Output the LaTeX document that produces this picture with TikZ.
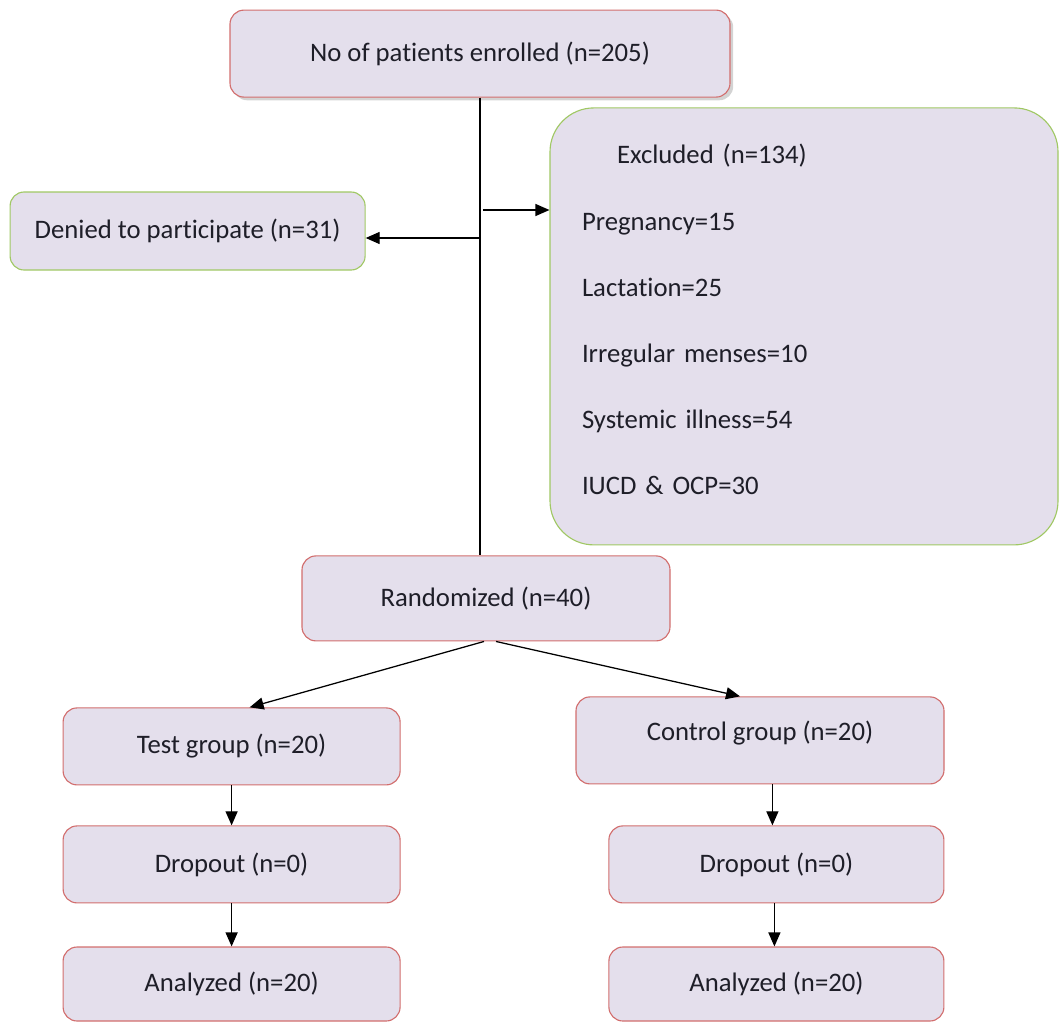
\documentclass[tikz,border=0pt]{standalone}
\usepackage{fontspec}
\setmainfont{Carlito}[Ligatures=NoCommon]
\usepackage{tikz}
\usetikzlibrary{arrows.meta,positioning,shapes,calc,shadows}
\definecolor{boxfill}{RGB}{228,223,236}
\definecolor{redline}{RGB}{210,110,110}
\definecolor{greenline}{RGB}{160,200,100}
\definecolor{textdark}{RGB}{30,30,40}

\begin{document}
\begin{tikzpicture}[
        box/.style={rectangle, draw=redline, fill=boxfill, line width=0.8pt,
                    align=center, rounded corners=0.35cm, text=textdark,
                    font=\fontsize{19}{23}\selectfont},
        greenbox/.style={box, draw=greenline},
        arrow/.style={-{Triangle[length=0.35cm,width=0.3cm]}, line width=0.9pt, black}
    ]
    \useasboundingbox (0,0) rectangle (26.475,-25.575);

    \node[box, minimum width=12.5cm, minimum height=2.175cm,
          drop shadow={shadow xshift=0.08cm, shadow yshift=-0.08cm, opacity=0.35}]
      (enrolled) at (12.0,-1.34) {No of patients enrolled (n=205)};

    \node[greenbox, minimum width=8.875cm, minimum height=1.95cm]
      (denied) at (4.69,-5.775) {Denied to participate (n=31)};

    \node[greenbox, minimum width=12.7cm, minimum height=10.925cm,
          rounded corners=1.1cm, align=left, text width=11.1cm, inner xsep=0pt]
      (excluded) at (20.1,-8.16)
      {\hspace*{0.875cm}Excluded (n=134)\\[24pt]
       Pregnancy=15\\[24pt]
       Lactation=25\\[24pt]
       Irregular menses=10\\[24pt]
       Systemic illness=54\\[24pt]
       IUCD \& OCP=30\rule[-0.35cm]{0pt}{0.1pt}};

    \node[box, minimum width=9.2cm, minimum height=2.125cm]
      (randomized) at (12.15,-14.96) {Randomized (n=40)};

    \node[box, minimum width=8.425cm, minimum height=1.925cm]
      (test) at (5.79,-18.66) {Test group (n=20)};
    \node[box, minimum width=9.2cm, minimum height=2.175cm, text depth=0.5cm]
      (control) at (19.0,-18.51) {Control group (n=20)};

    \node[box, minimum width=8.425cm, minimum height=1.925cm]
      (dropL) at (5.79,-21.61) {Dropout (n=0)};
    \node[box, minimum width=8.375cm, minimum height=1.925cm]
      (dropR) at (19.41,-21.61) {Dropout (n=0)};

    \node[box, minimum width=8.425cm, minimum height=1.85cm]
      (anaL) at (5.79,-24.6) {Analyzed (n=20)};
    \node[box, minimum width=8.375cm, minimum height=1.85cm]
      (anaR) at (19.41,-24.6) {Analyzed (n=20)};

    % trunk and side branches
    \coordinate (split) at (12.07,-5.25);
    \coordinate (deny) at (12.0,-5.95);
    \draw[line width=0.9pt] (enrolled.south) -- (enrolled.south |- randomized.north);
    \draw[arrow] (deny) -- (deny -| denied.east);
    \draw[arrow] (split) -- (split -| excluded.west);

    \draw[arrow] ([xshift=-0.05cm]randomized.south) -- ([xshift=0.45cm]test.north);
    \draw[arrow] ([xshift=0.25cm]randomized.south) -- ([xshift=-0.5cm]control.north);

    \draw[arrow] (test.south -| dropL.north) -- (dropL.north);
    \draw[arrow] (dropL.south) -- (anaL.north);
    \draw[arrow] ([xshift=-0.1cm]control.south -| dropR.north) -- ([xshift=-0.1cm]dropR.north);
    \draw[arrow] ([xshift=-0.05cm]dropR.south) -- ([xshift=-0.05cm]anaR.north);
\end{tikzpicture}
\end{document}
